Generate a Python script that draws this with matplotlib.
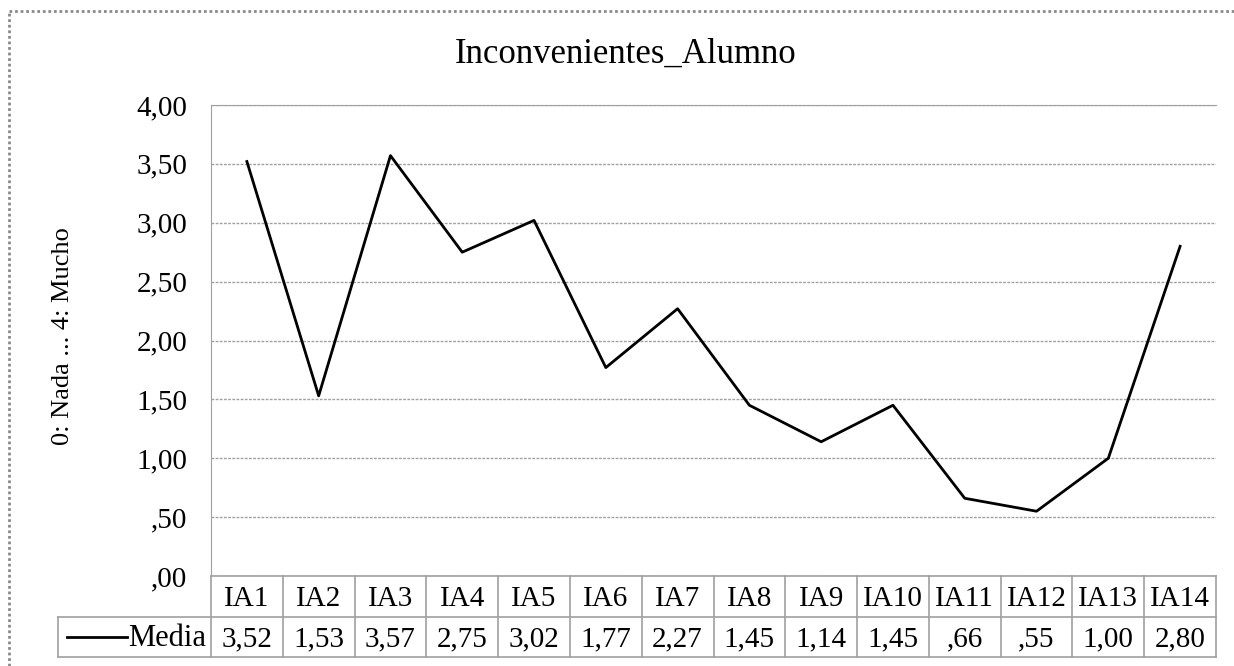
import matplotlib
matplotlib.use("Agg")
import matplotlib.pyplot as plt
from matplotlib.lines import Line2D

# data
categorias = ["IA1", "IA2", "IA3", "IA4", "IA5", "IA6", "IA7",
              "IA8", "IA9", "IA10", "IA11", "IA12", "IA13", "IA14"]
media = [3.52, 1.53, 3.57, 2.75, 3.02, 1.77, 2.27,
         1.45, 1.14, 1.45, 0.66, 0.55, 1.00, 2.80]
yticks = [0, 0.5, 1, 1.5, 2, 2.5, 3, 3.5, 4]

W, H = 1234, 666
plt.rcParams['font.family'] = ['Liberation Serif', 'DejaVu Serif']

def fx(x):
    return x / W

def fy(y):
    return 1 - y / H

def fmt(v):
    s = "%.2f" % v
    if s.startswith("0"):
        s = s[1:]
    return s.replace(".", ",")

fig = plt.figure(figsize=(W / 100, H / 100), dpi=100)

L, R, T, B = 211, 1216, 105, 576
ax = fig.add_axes([fx(L), fy(B), fx(R - L), (B - T) / H])
n = len(categorias)
xs = [i + 0.5 for i in range(n)]
ax.plot(xs, media, color="black", lw=2, zorder=3)
ax.set_xlim(0, n)
ax.set_ylim(0, 4)
ax.set_yticks(yticks)
ax.set_yticklabels([fmt(v) for v in yticks], fontsize=21)
ax.tick_params(axis="y", length=0, pad=17)
ax.set_xticks([])
ax.grid(axis="y", color="#a0a0a0", lw=1, ls=(0, (2, 1)))
for s in ["right", "bottom"]:
    ax.spines[s].set_visible(False)
ax.spines["top"].set_color("#a0a0a0")
ax.spines["top"].set_linestyle((0, (2, 1)))
ax.spines["left"].set_color("#a0a0a0")
ax.spines["left"].set_linestyle((0, (2, 1)))

# data table below the axis
r1, r2, r3 = 576, 617, 657
lx = 58
cw = (R - L) / n
gc = "#a0a0a0"
def hline(y, x0, x1):
    fig.add_artist(Line2D([fx(x0), fx(x1)], [fy(y), fy(y)], color=gc, lw=1.2))
def vline(x, y0, y1):
    fig.add_artist(Line2D([fx(x), fx(x)], [fy(y0), fy(y1)], color=gc, lw=1.2))

hline(r1, L, R)
hline(r2, lx, R)
hline(r3, lx, R)
vline(lx, r2, r3)
for i in range(n + 1):
    vline(L + i * cw, r1, r3)
for i, (c, v) in enumerate(zip(categorias, media)):
    cx = L + (i + 0.5) * cw
    fig.text(fx(cx), fy((r1 + r2) / 2 + 2), c, ha="center", va="center", fontsize=21)
    fig.text(fx(cx), fy((r2 + r3) / 2 + 2), fmt(v), ha="center", va="center", fontsize=21)
ym = (r2 + r3) / 2
fig.add_artist(Line2D([fx(67), fx(127)], [fy(ym), fy(ym)], color="black", lw=2))
fig.text(fx(206), fy(ym + 2), "Media", ha="right", va="center", fontsize=22)

# titles
fig.text(fx(626), fy(63), "Inconvenientes_Alumno", ha="center", va="baseline", fontsize=25)
fig.text(fx(63), fy(336), "0: Nada ... 4: Mucho", ha="center", va="center",
         rotation=90, fontsize=19)

# outer chart border
fig.add_artist(Line2D([fx(9), fx(9)], [0, fy(11)], color="#8a8a8a", lw=2, ls=(0, (1, 1))))
fig.add_artist(Line2D([fx(9), 1], [fy(11), fy(11)], color="#8a8a8a", lw=2, ls=(0, (1, 1))))

fig.savefig("out.png", dpi=100)
